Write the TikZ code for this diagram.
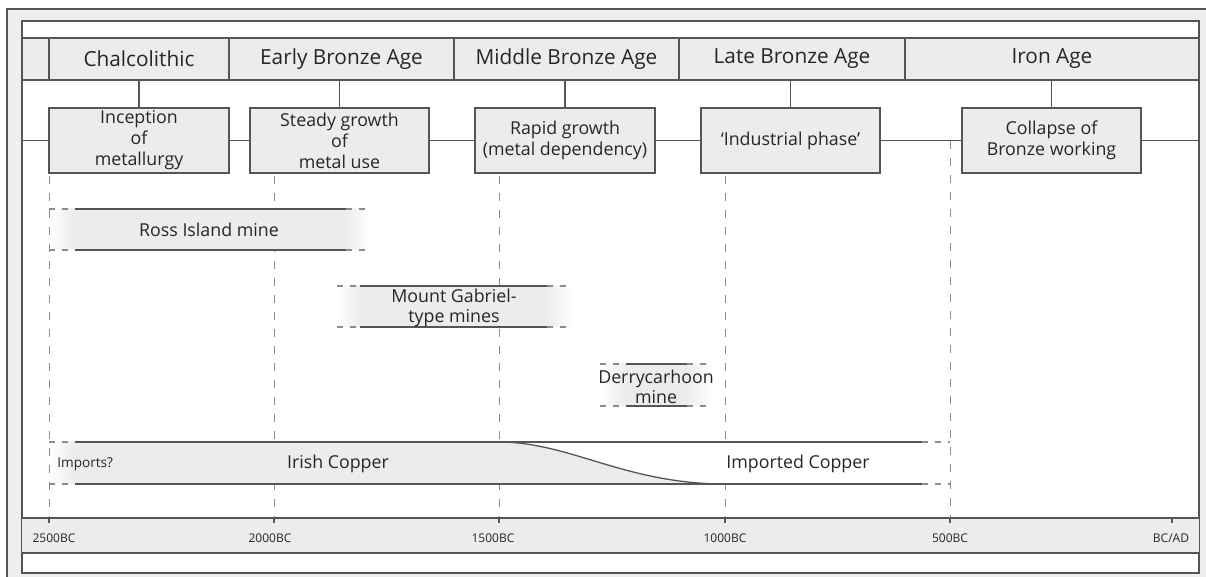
\documentclass[tikz,border=0pt]{standalone}
\usepackage{fontspec}
\setmainfont{Open Sans}
\definecolor{lineg}{HTML}{555555}
\definecolor{dashg}{HTML}{8C8C8C}
\definecolor{bandg}{HTML}{ECECEC}
\definecolor{outerg}{HTML}{EEEEEE}
\definecolor{txt}{HTML}{262626}
\tikzset{
  period/.style={draw=lineg, fill=bandg, line width=0.75pt, minimum height=21pt, inner sep=0pt, font=\fontsize{10.4}{12}\selectfont, text=txt},
  stagebox/.style={draw=lineg, fill=bandg, line width=0.75pt, minimum height=32.5pt, inner sep=0pt, align=center, font=\fontsize{8.9}{10.5}\selectfont, text=txt},
  conn/.style={draw=lineg, line width=0.65pt},
  guide/.style={draw=dashg, line width=0.5pt, dash pattern=on 4pt off 4.5pt},
  barline/.style={draw=lineg, line width=0.65pt},
  bardash/.style={draw=dashg, line width=0.6pt, dash pattern=on 3pt off 3.5pt},
  lbl/.style={font=\fontsize{8.9}{10}\selectfont, text=txt, align=center, inner sep=0pt},
  axlbl/.style={font=\fontsize{6}{7}\selectfont, text=txt, inner sep=0pt},
}
\begin{document}
\begin{tikzpicture}[x=0.5pt,y=-0.5pt]
\useasboundingbox (0,0) rectangle (1206,577);
% outer frame
\fill[outerg] (7,9) rectangle (1230,600);
\draw[lineg, line width=0.7pt] (7,600) -- (7,9) -- (1230,9);
\fill[white] (22,21) rectangle (1199,573);
\draw[lineg, line width=0.75pt] (22,21) rectangle (1199,573);

% period band
\node[period, minimum width=13.5pt] (p0) at (35.5,59) {};
\node[period, minimum width=90pt] (p1) at (139,59) {Chalcolithic};
\node[period, minimum width=112.5pt] (p2) at (341.5,59) {Early Bronze Age};
\node[period, minimum width=112.5pt] (p3) at (566.5,59) {Middle Bronze Age};
\node[period, minimum width=113pt] (p4) at (792,59) {Late Bronze Age};
\node[period, minimum width=147pt] (p5) at (1052,59) {Iron Age};

% stage boxes
\node[stagebox, minimum width=90pt] (b1) at (139,140.5) {Inception\\of\\metallurgy};
\node[stagebox, minimum width=89.5pt] (b2) at (339.5,140.5) {Steady growth\\of\\metal use};
\node[stagebox, minimum width=90pt] (b3) at (565,140.5) {Rapid growth\\(metal dependency)};
\node[stagebox, minimum width=89.5pt] (b4) at (790.5,140.5) {‘Industrial phase’};
\node[stagebox, minimum width=89.5pt] (b5) at (1051.5,140.5) {Collapse of\\Bronze working};

\coordinate (lin) at (22,140.5);
\coordinate (rin) at (1199,140.5);
\draw[conn] (lin) -- (b1.west);
\draw[conn] (b1.east) -- (b2.west);
\draw[conn] (b2.east) -- (b3.west);
\draw[conn] (b3.east) -- (b4.west);
\draw[conn] (b4.east) -- (b5.west);
\draw[conn] (b5.east) -- (rin);
\draw[conn] (p1.south) -- (b1.north);
\draw[conn] (p2.south -| b2.north) -- (b2.north);
\draw[conn] (p3.south -| b3.north) -- (b3.north);
\draw[conn] (p4.south -| b4.north) -- (b4.north);
\draw[conn] (p5.south -| b5.north) -- (b5.north);

% guides
\foreach \x in {274,499,725} \draw[guide] (\x,176) -- (\x,518);
\draw[guide] (950,141) -- (950,518);

% Ross Island mine
\shade[left color=white, right color=bandg] (49,209) rectangle (75,250);
\fill[bandg] (75,209) rectangle (346,250);
\shade[left color=bandg, right color=white] (346,209) rectangle (370,250);
\draw[barline] (75,209) -- (346,209) (75,250) -- (346,250);
\draw[bardash] (49,209) -- (75,209) (346,209) -- (370,209) (49,250) -- (75,250) (346,250) -- (370,250);
\node[lbl] (ross) at (209,230) {Ross Island mine};

% Mount Gabriel
\shade[left color=white, right color=bandg] (337,286) rectangle (360,327);
\fill[bandg] (360,286) rectangle (547,327);
\shade[left color=bandg, right color=white] (547,286) rectangle (573,327);
\draw[barline] (360,286) -- (547,286) (360,327) -- (547,327);
\draw[bardash] (337,286) -- (360,286) (547,286) -- (573,286) (337,327) -- (360,327) (547,327) -- (573,327);
\node[lbl] (gab) at (454,308) {Mount Gabriel-\\type mines};

% Derrycarhoon
\shade[left color=white, right color=bandg] (600,364) rectangle (626,406);
\fill[bandg] (626,364) rectangle (687,406);
\shade[left color=bandg, right color=white] (687,364) rectangle (712,406);
\draw[barline] (626,364) -- (687,364) (626,406) -- (687,406);
\draw[bardash] (600,364) -- (626,364) (687,364) -- (712,364) (600,406) -- (626,406) (687,406) -- (712,406);
\node[lbl] (derry) at (656,387) {Derrycarhoon\\mine};

% Copper
\fill[white] (75,442) rectangle (922,484);
\shade[left color=white, right color=bandg] (49,442) rectangle (75,484);
\fill[bandg] (75,442) -- (499,442) .. controls (570,442) and (625,484) .. (725,484) -- (75,484) -- cycle;
\draw[barline] (499,442) .. controls (570,442) and (625,484) .. (725,484);
\draw[barline] (75,442) -- (922,442) (75,484) -- (922,484);
\draw[bardash] (49,442) -- (75,442) (922,442) -- (950,442) (49,484) -- (75,484) (922,484) -- (950,484);
\node[font=\fontsize{6.8}{8}\selectfont, text=txt, inner sep=0pt, anchor=west] (imp) at (57,464) {Imports?};
\node[lbl] (irish) at (338,464) {Irish Copper};
\node[lbl] (imported) at (798,464) {Imported Copper};

% 2500BC guide on top
\draw[guide] (49,176) -- (49,518);

% axis band
\fill[bandg] (22,518) rectangle (1199,553);
\draw[lineg, line width=0.75pt] (22,518) -- (1199,518) (22,553) -- (1199,553);
\foreach \x/\n in {49/t1,274/t2,499/t3,725/t4,950/t5,1172/t6} {
  \coordinate (\n) at (\x,518);
  \draw[lineg, line width=0.6pt] (\n) -- ++(0,5);
}
\node[axlbl] (a1) at (54,538) {2500BC};
\node[axlbl] (a2) at (270,538) {2000BC};
\node[axlbl] (a3) at (493,538) {1500BC};
\node[axlbl] (a4) at (725,538) {1000BC};
\node[axlbl] (a5) at (950,538) {500BC};
\node[axlbl] (a6) at (1171,538) {BC/AD};
\end{tikzpicture}
\end{document}
